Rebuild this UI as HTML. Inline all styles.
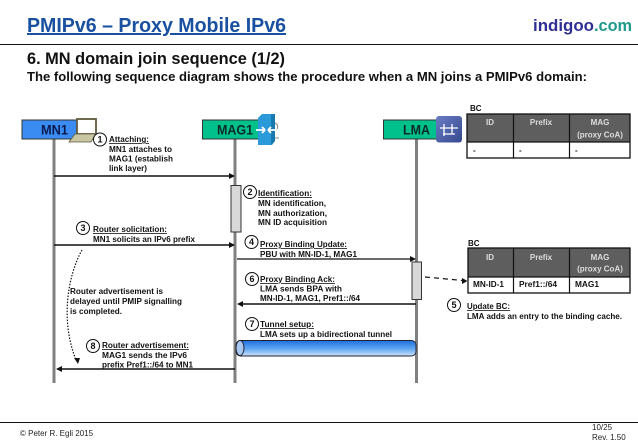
<!DOCTYPE html>
<html><head><meta charset="utf-8"><style>
html,body{margin:0;padding:0;background:#fff;width:638px;height:442px;overflow:hidden}
svg{display:block;filter:blur(.3px)}
text{font-family:"Liberation Sans",sans-serif}
.b{font-weight:bold;font-size:8px;fill:#111}
.u{text-decoration:underline}
.n{font-weight:bold;font-size:9px;fill:#111;text-anchor:middle}
.h{font-weight:bold;font-size:8px;fill:#ddd;text-anchor:middle}
.f{font-size:8px;fill:#222}
</style></head><body>
<svg width="638" height="442" viewBox="0 0 638 442" xmlns="http://www.w3.org/2000/svg">
<defs>
<linearGradient id="tube" x1="0" y1="0" x2="0" y2="1"><stop offset="0" stop-color="#1c6fe0"/><stop offset=".55" stop-color="#62a8f2"/><stop offset="1" stop-color="#cfe3fa"/></linearGradient>
<linearGradient id="sw" x1="0" y1="0" x2="1" y2="1"><stop offset="0" stop-color="#6a7cc4"/><stop offset="1" stop-color="#36488e"/></linearGradient>
</defs>

<text x="27" y="32" font-size="20" font-weight="bold" fill="#1a50a0" text-decoration="underline" textLength="259" lengthAdjust="spacingAndGlyphs">PMIPv6 – Proxy Mobile IPv6</text>
<text x="533" y="31" font-size="17" font-weight="bold" fill="#2f2f96" textLength="61" lengthAdjust="spacingAndGlyphs">indigoo</text>
<text x="594" y="31" font-size="17" font-weight="bold" fill="#1f9a8c" textLength="38" lengthAdjust="spacingAndGlyphs">.com</text>
<rect x="0" y="44" width="638" height="1" fill="#111"/>
<text x="27" y="64" font-size="16.5" font-weight="bold" fill="#111" textLength="258" lengthAdjust="spacingAndGlyphs">6. MN domain join sequence (1/2)</text>
<text x="27" y="81" font-size="13" font-weight="bold" fill="#111" textLength="560" lengthAdjust="spacingAndGlyphs">The following sequence diagram shows the procedure when a MN joins a PMIPv6 domain:</text>

<!-- lifelines -->
<rect x="52.500" y="139" width="3" height="244" fill="#808080"/>
<rect x="233.500" y="139" width="3" height="244" fill="#808080"/>
<rect x="415" y="139" width="3" height="244" fill="#808080"/>

<!-- actor boxes -->
<rect x="22" y="120" width="56" height="19" fill="#3a8cf2" stroke="#333" stroke-width="1"/>
<text x="41" y="134.500" font-size="14" font-weight="bold" fill="#0a1a50" textLength="27" lengthAdjust="spacingAndGlyphs">MN1</text>
<rect x="202.500" y="120" width="58" height="19" fill="#00c08c" stroke="#333" stroke-width="1"/>
<text x="217" y="134.500" font-size="14" font-weight="bold" fill="#0c2a28" textLength="36" lengthAdjust="spacingAndGlyphs">MAG1</text>
<rect x="383.500" y="120" width="56" height="19" fill="#00c08c" stroke="#333" stroke-width="1"/>
<text x="403" y="134.500" font-size="14" font-weight="bold" fill="#0c2a28" textLength="27" lengthAdjust="spacingAndGlyphs">LMA</text>

<!-- laptop -->
<rect x="77" y="119" width="19" height="15" fill="#fff" stroke="#5f5a3c" stroke-width="1.800"/>
<path d="M75 134H96L91 142H69Z" fill="#c9c6a4" stroke="#5f5a3c" stroke-width=".8"/>

<!-- MAG icon -->
<path d="M258 118L262 114H275V141L272 145H258Z" fill="#2a9ad8"/>
<path d="M271 114.500L275 114V141L271 145Z" fill="#1878b0"/>
<path d="M256 130H265M265 130L262 127M265 130L262 133M278 130H268M268 130L271 127M268 130L271 133" stroke="#fff" stroke-width="1.800" fill="none"/>
<path d="M275 123q4 2 2 6M275 138h4" stroke="#888" stroke-width="1" fill="none"/>

<!-- LMA icon -->
<rect x="436" y="116" width="26" height="26.500" rx="3" fill="url(#sw)"/>
<path d="M444 124V136M452 124V134M440 128H458M443 134H455" stroke="#fff" stroke-width="1.300" fill="none"/>

<!-- activation boxes -->
<rect x="231" y="185.500" width="10" height="46.500" fill="#d8d8d8" stroke="#333" stroke-width="1"/>
<rect x="412" y="262" width="9.500" height="37.500" fill="#d8d8d8" stroke="#333" stroke-width="1"/>

<!-- arrows -->
<g stroke="#111" fill="none">
<path d="M54 176H230" stroke-width="1.500"/>
<path d="M54 245H230" stroke-width="1.500"/>
<path d="M237 259H411" stroke-width="1.200"/>
<path d="M416 304H242" stroke-width="1.500"/>
<path d="M235 369H60" stroke-width="1.500"/>
<path d="M425 277L463 280.500" stroke-width="1.200" stroke-dasharray="5 4"/>
<path d="M82 250C68 275 60 320 76 360" stroke-width="1.200" stroke-dasharray="1.500 1.500"/>
</g>
<g fill="#111">
<path d="M235 176L229 173V179Z"/>
<path d="M235 245L229 242V248Z"/>
<path d="M416 259L410 256V262Z"/>
<path d="M237 304L243 301V307Z"/>
<path d="M56 369L62 366V372Z"/>
<path d="M467.500 281L462 278V284Z"/>
<path d="M78 364L74 358L80 358Z"/>
</g>

<!-- tube -->
<rect x="236" y="340.500" width="180" height="15.500" rx="4.500" fill="url(#tube)" stroke="#223" stroke-width="1"/>
<ellipse cx="240" cy="348" rx="4" ry="7.500" fill="#a9c8f0" stroke="#223" stroke-width="1"/>

<!-- circles -->
<g fill="#fff" stroke="#111" stroke-width="1">
<circle cx="100" cy="139.500" r="6.500"/><circle cx="250" cy="192" r="6.500"/>
<circle cx="83" cy="228" r="6.500"/><circle cx="251.500" cy="242" r="6.500"/>
<circle cx="454" cy="305" r="6.500"/><circle cx="252" cy="279" r="6.500"/>
<circle cx="252" cy="324" r="6.500"/><circle cx="93" cy="346" r="6.500"/>
</g>
<text class="n" x="100" y="142.500">1</text><text class="n" x="250" y="195">2</text>
<text class="n" x="83" y="231">3</text><text class="n" x="251.500" y="245">4</text>
<text class="n" x="454" y="308">5</text><text class="n" x="252" y="282">6</text>
<text class="n" x="252" y="327">7</text><text class="n" x="93" y="349">8</text>

<!-- labels -->
<g>
<text class="b u" x="109" y="142" textLength="40" lengthAdjust="spacingAndGlyphs">Attaching:</text>
<text class="b" x="109" y="152" textLength="63" lengthAdjust="spacingAndGlyphs">MN1 attaches to</text>
<text class="b" x="109" y="161.500" textLength="64" lengthAdjust="spacingAndGlyphs">MAG1 (establish</text>
<text class="b" x="109" y="171" textLength="38" lengthAdjust="spacingAndGlyphs">link layer)</text>

<text class="b u" x="258" y="196" textLength="54" lengthAdjust="spacingAndGlyphs">Identification:</text>
<text class="b" x="258" y="206" textLength="68" lengthAdjust="spacingAndGlyphs">MN identification,</text>
<text class="b" x="258" y="216" textLength="69" lengthAdjust="spacingAndGlyphs">MN authorization,</text>
<text class="b" x="258" y="225" textLength="69" lengthAdjust="spacingAndGlyphs">MN ID acquisition</text>

<text class="b u" x="93" y="232" textLength="74" lengthAdjust="spacingAndGlyphs">Router solicitation:</text>
<text class="b" x="93" y="242" textLength="102" lengthAdjust="spacingAndGlyphs">MN1 solicits an IPv6 prefix</text>

<text class="b u" x="260" y="247" textLength="87" lengthAdjust="spacingAndGlyphs">Proxy Binding Update:</text>
<text class="b" x="260" y="257" textLength="97" lengthAdjust="spacingAndGlyphs">PBU with MN-ID-1, MAG1</text>

<text class="b u" x="260" y="282" textLength="75" lengthAdjust="spacingAndGlyphs">Proxy Binding Ack:</text>
<text class="b" x="260" y="291.500" textLength="82" lengthAdjust="spacingAndGlyphs">LMA sends BPA with</text>
<text class="b" x="260" y="301" textLength="100" lengthAdjust="spacingAndGlyphs">MN-ID-1, MAG1, Pref1::/64</text>

<text class="b u" x="260" y="327" textLength="54" lengthAdjust="spacingAndGlyphs">Tunnel setup:</text>
<text class="b" x="260" y="337" textLength="132" lengthAdjust="spacingAndGlyphs">LMA sets up a bidirectional tunnel</text>

<text class="b" x="70" y="294" textLength="93" lengthAdjust="spacingAndGlyphs">Router advertisement is</text>
<text class="b" x="70" y="304" textLength="112" lengthAdjust="spacingAndGlyphs">delayed until PMIP signalling</text>
<text class="b" x="70" y="314" textLength="52" lengthAdjust="spacingAndGlyphs">is completed.</text>

<text class="b u" x="102" y="348" textLength="87" lengthAdjust="spacingAndGlyphs">Router advertisement:</text>
<text class="b" x="102" y="358" textLength="85" lengthAdjust="spacingAndGlyphs">MAG1 sends the IPv6</text>
<text class="b" x="102" y="367.500" textLength="91" lengthAdjust="spacingAndGlyphs">prefix Pref1::/64 to MN1</text>

<text class="b u" x="467" y="309" textLength="43" lengthAdjust="spacingAndGlyphs">Update BC:</text>
<text class="b" x="467" y="319" textLength="155" lengthAdjust="spacingAndGlyphs">LMA adds an entry to the binding cache.</text>
</g>

<!-- Table 1 -->
<text class="b" x="470" y="111">BC</text>
<rect x="467" y="114" width="163" height="28" fill="#5e5e5e"/>
<rect x="467" y="142" width="163" height="16" fill="#fff"/>
<rect x="467" y="114" width="163" height="44" fill="none" stroke="#111" stroke-width="1.300"/>
<path d="M467 142H630M513.500 114V158M569.500 114V158" stroke="#111" stroke-width="1.200" fill="none"/>
<text class="h" x="490" y="125">ID</text><text class="h" x="541" y="125">Prefix</text>
<text class="h" x="600" y="125">MAG</text><text class="h" x="600" y="137.500">(proxy CoA)</text>
<text class="b" x="473" y="153">-</text><text class="b" x="519" y="153">-</text><text class="b" x="575" y="153">-</text>

<!-- Table 2 -->
<text class="b" x="468" y="246">BC</text>
<rect x="468" y="248" width="162" height="29" fill="#5e5e5e"/>
<rect x="468" y="277" width="162" height="16" fill="#fff"/>
<rect x="468" y="248" width="162" height="45" fill="none" stroke="#111" stroke-width="1.300"/>
<path d="M468 277H630M513.500 248V293M569.500 248V293" stroke="#111" stroke-width="1.200" fill="none"/>
<text class="h" x="490" y="260">ID</text><text class="h" x="541" y="260">Prefix</text>
<text class="h" x="600" y="260">MAG</text><text class="h" x="600" y="271.500">(proxy CoA)</text>
<text class="b" x="473" y="287" textLength="31" lengthAdjust="spacingAndGlyphs">MN-ID-1</text>
<text class="b" x="519" y="287" textLength="38" lengthAdjust="spacingAndGlyphs">Pref1::/64</text>
<text class="b" x="575" y="287" textLength="24" lengthAdjust="spacingAndGlyphs">MAG1</text>

<!-- footer -->
<rect x="0" y="422" width="638" height="1" fill="#111"/>
<text class="f" x="20" y="436">© Peter R. Egli 2015</text>
<text class="f" x="592" y="430">10/25</text>
<text class="f" x="592" y="440">Rev. 1.50</text>
</svg>
</body></html>
